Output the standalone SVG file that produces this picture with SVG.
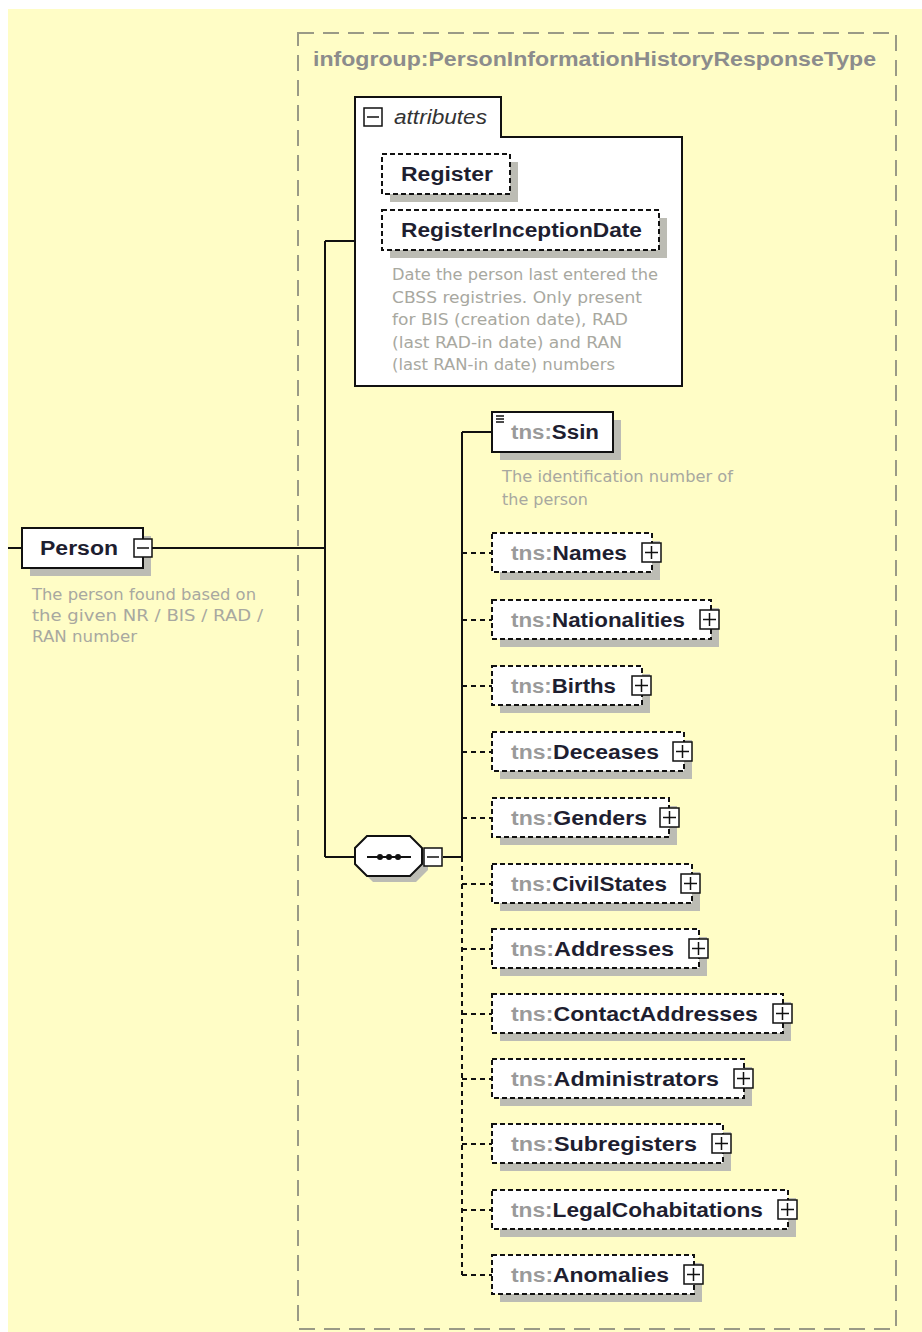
<svg xmlns="http://www.w3.org/2000/svg" width="922" height="1332" viewBox="0 0 922 1332">
<style>
.bg{fill:#FFFDC6}
.frame{fill:none;stroke:#9a9a86;stroke-width:2;stroke-dasharray:16 9}
.title{font-family:"Liberation Sans",Arial,sans-serif;font-weight:bold;font-size:20px;fill:#8c8c8c}
.box{fill:#fff;stroke:#111;stroke-width:2}
.opt{fill:#fff;stroke:#111;stroke-width:2;stroke-dasharray:5 3}
.shadow{fill:#bcbcb4}
.lbl{font-family:"Liberation Sans",Arial,sans-serif;font-weight:bold;font-size:20px;fill:#1e1e30}
.ns{fill:#9a9a9a}
.desc{font-family:"DejaVu Sans","Liberation Sans",sans-serif;font-size:15px;fill:#a8a8a0}
.ital{font-family:"Liberation Sans",Arial,sans-serif;font-style:italic;font-size:20px;fill:#333}
.btn{fill:#fff;stroke:#111;stroke-width:1.5}
.sign{stroke:#111;stroke-width:1.5;fill:none}
.ln{stroke:#111;stroke-width:2;fill:none}
.dl{stroke:#111;stroke-width:2;fill:none;stroke-dasharray:5 4}
</style>
<rect width="922" height="1332" fill="#fff"/>
<rect class="bg" x="8" y="9" width="914" height="1323"/>
<rect class="frame" x="298" y="33" width="598" height="1296"/>
<text class="title" x="313" y="66" textLength="563" lengthAdjust="spacingAndGlyphs">infogroup:PersonInformationHistoryResponseType</text>

<g id="connectors">
<path class="ln" d="M8,548H22M152,548H325M325,241V857M325,241H355M325,857H355M443,857H462M462,432V857M462,432H492"/>
<path class="dl" d="M462,857V1275M462,553H492M462,620H492M462,686H492M462,752H492M462,818H492M462,884H492M462,949H492M462,1014H492M462,1079H492M462,1144H492M462,1210H492M462,1275H492"/>
</g>

<g id="person">
<rect class="shadow" x="30" y="536" width="121" height="40"/>
<rect class="box" x="22" y="528" width="121" height="40"/>
<text class="lbl" x="40" y="555" textLength="78" lengthAdjust="spacingAndGlyphs">Person</text>
<rect class="btn" x="134" y="539" width="18" height="18"/>
<path class="sign" d="M137,548H149"/>
<text class="desc" x="32" y="600" textLength="224" lengthAdjust="spacingAndGlyphs">The person found based on</text>
<text class="desc" x="32" y="621" textLength="231" lengthAdjust="spacingAndGlyphs">the given NR / BIS / RAD /</text>
<text class="desc" x="32" y="642" textLength="105" lengthAdjust="spacingAndGlyphs">RAN number</text>
</g>

<g id="attributes">
<path class="box" d="M355,97H501V137H682V386H355Z"/>
<rect class="btn" x="364" y="108" width="18" height="18"/>
<path class="sign" d="M367,117H379"/>
<text class="ital" x="394" y="124" textLength="93" lengthAdjust="spacingAndGlyphs">attributes</text>
</g>

<g id="register">
<rect class="shadow" x="390" y="162" width="128" height="40"/>
<rect class="opt" x="382" y="154" width="128" height="40"/>
<text class="lbl" x="401" y="181" textLength="92" lengthAdjust="spacingAndGlyphs">Register</text>
</g>

<g id="registerInceptionDate">
<rect class="shadow" x="390" y="218" width="277" height="40"/>
<rect class="opt" x="382" y="210" width="277" height="40"/>
<text class="lbl" x="401" y="237" textLength="241" lengthAdjust="spacingAndGlyphs">RegisterInceptionDate</text>
<text class="desc" x="392" y="280" textLength="266" lengthAdjust="spacingAndGlyphs">Date the person last entered the</text>
<text class="desc" x="392" y="303" textLength="250" lengthAdjust="spacingAndGlyphs">CBSS registries. Only present</text>
<text class="desc" x="392" y="325" textLength="236" lengthAdjust="spacingAndGlyphs">for BIS (creation date), RAD</text>
<text class="desc" x="392" y="348" textLength="230" lengthAdjust="spacingAndGlyphs">(last RAD-in date) and RAN</text>
<text class="desc" x="392" y="370" textLength="223" lengthAdjust="spacingAndGlyphs">(last RAN-in date) numbers</text>
</g>

<g id="sequence">
<polygon class="shadow" points="373,842 416,842 428,854 428,870 416,882 373,882 361,870 361,854"/>
<polygon class="box" points="367,836 410,836 422,848 422,864 410,876 367,876 355,864 355,848"/>
<path class="ln" d="M367,857H411"/>
<circle cx="380" cy="857" r="3" fill="#111"/>
<circle cx="389" cy="857" r="3" fill="#111"/>
<circle cx="398" cy="857" r="3" fill="#111"/>
<rect class="btn" x="424" y="848" width="18" height="18"/>
<path class="sign" d="M427,857H439"/>
</g>

<g id="ssin">
<rect class="shadow" x="500" y="420" width="121" height="40"/>
<rect class="box" x="492" y="412" width="121" height="40"/>
<path class="sign" d="M496,416H504M496,419H504M496,422H504"/>
<text class="lbl" x="511" y="439" textLength="88" lengthAdjust="spacingAndGlyphs"><tspan class="ns">tns:</tspan>Ssin</text>
<text class="desc" x="502" y="482" textLength="231" lengthAdjust="spacingAndGlyphs">The identification number of</text>
<text class="desc" x="502" y="505" textLength="86" lengthAdjust="spacingAndGlyphs">the person</text>
</g>

<g id="names">
<rect class="shadow" x="500" y="541" width="160" height="39"/>
<rect class="opt" x="492" y="533" width="160" height="39"/>
<text class="lbl" x="511" y="560" textLength="116" lengthAdjust="spacingAndGlyphs"><tspan class="ns">tns:</tspan>Names</text>
<rect class="btn" x="642" y="543" width="19" height="19"/>
<path class="sign" d="M645,552.5H658M651.5,546V559"/>
</g>

<g id="nationalities">
<rect class="shadow" x="500" y="608" width="219" height="39"/>
<rect class="opt" x="492" y="600" width="219" height="39"/>
<text class="lbl" x="511" y="627" textLength="174" lengthAdjust="spacingAndGlyphs"><tspan class="ns">tns:</tspan>Nationalities</text>
<rect class="btn" x="700" y="610" width="19" height="19"/>
<path class="sign" d="M703,619.5H716M709.5,613V626"/>
</g>

<g id="births">
<rect class="shadow" x="500" y="674" width="150" height="39"/>
<rect class="opt" x="492" y="666" width="150" height="39"/>
<text class="lbl" x="511" y="693" textLength="105" lengthAdjust="spacingAndGlyphs"><tspan class="ns">tns:</tspan>Births</text>
<rect class="btn" x="632" y="676" width="19" height="19"/>
<path class="sign" d="M635,685.5H648M641.5,679V692"/>
</g>

<g id="deceases">
<rect class="shadow" x="500" y="740" width="192" height="39"/>
<rect class="opt" x="492" y="732" width="192" height="39"/>
<text class="lbl" x="511" y="759" textLength="148" lengthAdjust="spacingAndGlyphs"><tspan class="ns">tns:</tspan>Deceases</text>
<rect class="btn" x="673" y="742" width="19" height="19"/>
<path class="sign" d="M676,751.5H689M682.5,745V758"/>
</g>

<g id="genders">
<rect class="shadow" x="500" y="806" width="177" height="39"/>
<rect class="opt" x="492" y="798" width="177" height="39"/>
<text class="lbl" x="511" y="825" textLength="136" lengthAdjust="spacingAndGlyphs"><tspan class="ns">tns:</tspan>Genders</text>
<rect class="btn" x="660" y="808" width="19" height="19"/>
<path class="sign" d="M663,817.5H676M669.5,811V824"/>
</g>

<g id="civilStates">
<rect class="shadow" x="500" y="872" width="200" height="39"/>
<rect class="opt" x="492" y="864" width="200" height="39"/>
<text class="lbl" x="511" y="891" textLength="156" lengthAdjust="spacingAndGlyphs"><tspan class="ns">tns:</tspan>CivilStates</text>
<rect class="btn" x="681" y="874" width="19" height="19"/>
<path class="sign" d="M684,883.5H697M690.5,877V890"/>
</g>

<g id="addresses">
<rect class="shadow" x="500" y="937" width="207" height="39"/>
<rect class="opt" x="492" y="929" width="207" height="39"/>
<text class="lbl" x="511" y="956" textLength="163" lengthAdjust="spacingAndGlyphs"><tspan class="ns">tns:</tspan>Addresses</text>
<rect class="btn" x="689" y="939" width="19" height="19"/>
<path class="sign" d="M692,948.5H705M698.5,942V955"/>
</g>

<g id="contactAddresses">
<rect class="shadow" x="500" y="1002" width="291" height="39"/>
<rect class="opt" x="492" y="994" width="291" height="39"/>
<text class="lbl" x="511" y="1021" textLength="247" lengthAdjust="spacingAndGlyphs"><tspan class="ns">tns:</tspan>ContactAddresses</text>
<rect class="btn" x="773" y="1004" width="19" height="19"/>
<path class="sign" d="M776,1013.5H789M782.5,1007V1020"/>
</g>

<g id="administrators">
<rect class="shadow" x="500" y="1067" width="252" height="39"/>
<rect class="opt" x="492" y="1059" width="252" height="39"/>
<text class="lbl" x="511" y="1086" textLength="208" lengthAdjust="spacingAndGlyphs"><tspan class="ns">tns:</tspan>Administrators</text>
<rect class="btn" x="734" y="1069" width="19" height="19"/>
<path class="sign" d="M737,1078.5H750M743.5,1072V1085"/>
</g>

<g id="subregisters">
<rect class="shadow" x="500" y="1132" width="231" height="39"/>
<rect class="opt" x="492" y="1124" width="231" height="39"/>
<text class="lbl" x="511" y="1151" textLength="186" lengthAdjust="spacingAndGlyphs"><tspan class="ns">tns:</tspan>Subregisters</text>
<rect class="btn" x="712" y="1134" width="19" height="19"/>
<path class="sign" d="M715,1143.5H728M721.5,1137V1150"/>
</g>

<g id="legalCohabitations">
<rect class="shadow" x="500" y="1198" width="296" height="39"/>
<rect class="opt" x="492" y="1190" width="296" height="39"/>
<text class="lbl" x="511" y="1217" textLength="252" lengthAdjust="spacingAndGlyphs"><tspan class="ns">tns:</tspan>LegalCohabitations</text>
<rect class="btn" x="778" y="1200" width="19" height="19"/>
<path class="sign" d="M781,1209.5H794M787.5,1203V1216"/>
</g>

<g id="anomalies">
<rect class="shadow" x="500" y="1263" width="202" height="39"/>
<rect class="opt" x="492" y="1255" width="202" height="39"/>
<text class="lbl" x="511" y="1282" textLength="158" lengthAdjust="spacingAndGlyphs"><tspan class="ns">tns:</tspan>Anomalies</text>
<rect class="btn" x="684" y="1265" width="19" height="19"/>
<path class="sign" d="M687,1274.5H700M693.5,1268V1281"/>
</g>
</svg>
